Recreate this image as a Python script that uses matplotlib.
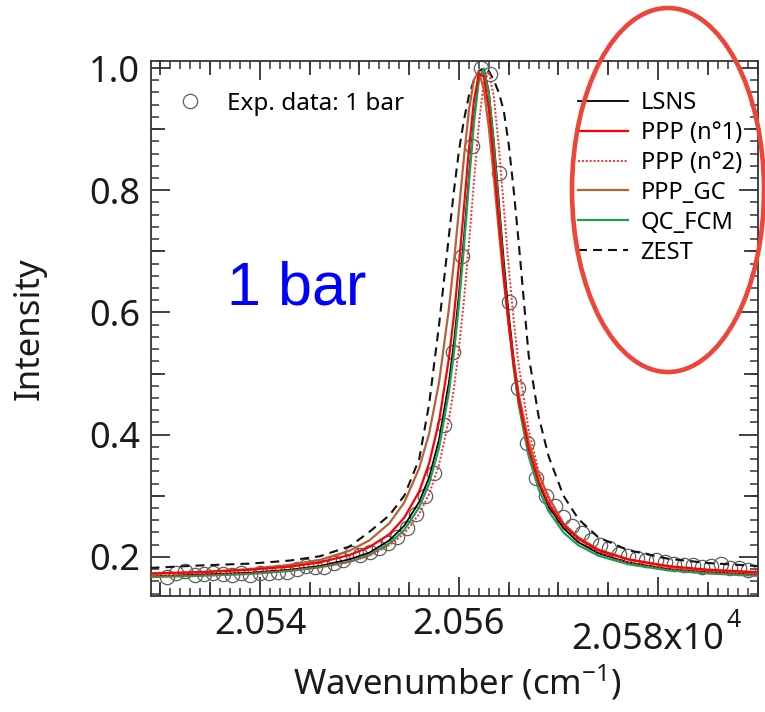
import numpy as np
import matplotlib
matplotlib.use("Agg")
import matplotlib.pyplot as plt
from matplotlib.patches import Ellipse
from matplotlib.ticker import FixedLocator, MultipleLocator, FixedFormatter

plt.rcParams['font.family'] = ['Noto Sans', 'DejaVu Sans']
plt.rcParams['mathtext.fontset'] = 'custom'
plt.rcParams['mathtext.rm'] = 'Noto Sans'
plt.rcParams['mathtext.it'] = 'Noto Sans:italic'
plt.rcParams['mathtext.bf'] = 'Noto Sans:bold'

# Measured spectrum at 1 bar (wavenumber in cm^-1)
exp_wn = [20530.7, 20531.6, 20532.5, 20533.5, 20534.4, 20535.3, 20536.3, 20537.2,
          20538.1, 20539.0, 20540.0, 20540.9, 20541.8, 20542.7, 20543.7, 20544.6,
          20545.5, 20546.4, 20547.4, 20548.3, 20549.2, 20550.1, 20551.1, 20552.0,
          20552.9, 20553.8, 20554.8, 20555.7, 20556.6, 20557.5, 20558.5, 20559.4,
          20560.3, 20561.3, 20562.2, 20563.1, 20564.0, 20565.0, 20565.9, 20566.8,
          20567.7, 20568.7, 20569.6, 20570.5, 20571.4, 20572.4, 20573.3, 20574.2,
          20575.1, 20576.1, 20577.0, 20577.9, 20578.8, 20579.8, 20580.7, 20581.6,
          20582.6, 20583.5, 20584.4, 20585.3, 20586.3, 20587.2, 20588.1, 20589.0]
exp_int = [0.167, 0.173, 0.177, 0.170, 0.172, 0.173, 0.172, 0.170, 0.173, 0.170,
           0.173, 0.173, 0.175, 0.175, 0.180, 0.185, 0.183, 0.183, 0.190, 0.195,
           0.206, 0.203, 0.208, 0.215, 0.222, 0.232, 0.247, 0.270, 0.300, 0.337,
           0.416, 0.535, 0.692, 0.872, 1.000, 0.990, 0.828, 0.617, 0.476, 0.386,
           0.329, 0.300, 0.283, 0.265, 0.250, 0.239, 0.227, 0.219, 0.214, 0.205,
           0.201, 0.198, 0.195, 0.195, 0.191, 0.188, 0.187, 0.187, 0.183, 0.185,
           0.188, 0.182, 0.182, 0.178]

# Computed line profiles on a common wavenumber grid
model_wn = [20529, 20534, 20539, 20543, 20546, 20549, 20551, 20553, 20554.5, 20556,
            20557, 20558, 20559, 20559.5, 20560, 20560.5, 20561, 20561.5, 20562,
            20562.5, 20563, 20563.5, 20564, 20564.5, 20565, 20565.5, 20566, 20567,
            20568, 20569, 20570.5, 20572, 20574, 20577, 20581, 20585, 20590]
lsns = [0.168, 0.171, 0.174, 0.179, 0.185, 0.196, 0.207, 0.227, 0.251, 0.290,
        0.330, 0.392, 0.487, 0.552, 0.631, 0.723, 0.823, 0.916, 0.982, 0.999,
        0.961, 0.881, 0.783, 0.685, 0.597, 0.524, 0.464, 0.377, 0.321, 0.283,
        0.247, 0.224, 0.206, 0.191, 0.180, 0.175, 0.171]
ppp_1 = [0.173, 0.175, 0.179, 0.184, 0.191, 0.203, 0.216, 0.237, 0.264, 0.307,
         0.353, 0.422, 0.526, 0.596, 0.679, 0.772, 0.867, 0.946, 0.991, 0.986,
         0.933, 0.848, 0.753, 0.661, 0.581, 0.514, 0.458, 0.377, 0.324, 0.287,
         0.252, 0.230, 0.211, 0.196, 0.185, 0.179, 0.175]
ppp_2 = [0.168, 0.170, 0.173, 0.178, 0.183, 0.192, 0.202, 0.219, 0.238, 0.270,
         0.303, 0.351, 0.426, 0.477, 0.542, 0.620, 0.712, 0.813, 0.909, 0.976,
         0.994, 0.954, 0.873, 0.773, 0.674, 0.587, 0.514, 0.408, 0.340, 0.295,
         0.253, 0.228, 0.208, 0.191, 0.181, 0.175, 0.171]
ppp_gc = [0.172, 0.175, 0.180, 0.187, 0.195, 0.210, 0.227, 0.255, 0.289, 0.345,
          0.402, 0.486, 0.608, 0.684, 0.768, 0.854, 0.931, 0.981, 0.994, 0.965,
          0.902, 0.821, 0.734, 0.652, 0.580, 0.519, 0.467, 0.389, 0.335, 0.298,
          0.255, 0.232, 0.212, 0.196, 0.184, 0.178, 0.174]
qc_fcm = [0.167, 0.169, 0.172, 0.177, 0.183, 0.192, 0.203, 0.222, 0.244, 0.281,
          0.320, 0.379, 0.471, 0.535, 0.615, 0.708, 0.812, 0.910, 0.981, 0.999,
          0.958, 0.873, 0.770, 0.669, 0.581, 0.508, 0.449, 0.365, 0.311, 0.275,
          0.240, 0.219, 0.202, 0.188, 0.178, 0.173, 0.169]
zest = [0.182, 0.186, 0.189, 0.194, 0.201, 0.217, 0.241, 0.268, 0.300, 0.360,
        0.450, 0.580, 0.727, 0.800, 0.865, 0.915, 0.955, 0.980, 0.995, 1.000,
        0.995, 0.980, 0.960, 0.930, 0.875, 0.800, 0.715, 0.530, 0.430, 0.365,
        0.300, 0.262, 0.232, 0.211, 0.197, 0.190, 0.185]

x_ticks = [2.054, 2.056, 2.058]
x_tick_labels = ['2.054', '2.056', '']
x_last_label = '2.058x10'
x_exponent = '4'
y_ticks = [0.2, 0.4, 0.6, 0.8, 1.0]
y_tick_labels = ['0.2', '0.4', '0.6', '0.8', '1.0']

W, H = 765, 712
fig = plt.figure(figsize=(W / 100, H / 100), dpi=100)
ax = fig.add_axes([151 / W, 1 - 596 / H, 607 / W, 535 / H])

xe = np.array(exp_wn) / 1e4
xm = np.array(model_wn) / 1e4

h_exp, = ax.plot(xe, exp_int, ls='none', marker='o', ms=10.3, mfc='none',
                 mec='#5e5e5e', mew=0.9, label='Exp. data: 1 bar', zorder=2)
h_zest, = ax.plot(xm, zest, color='#111111', lw=1.5, ls=(0, (4.3, 2.9)),
                  label='ZEST', zorder=3)
h_lsns, = ax.plot(xm, lsns, color='#000000', lw=1.3, label='LSNS', zorder=4)
h_qc, = ax.plot(xm, qc_fcm, color='#1f9e58', lw=1.6, label='QC_FCM', zorder=5)
h_gc, = ax.plot(xm, ppp_gc, color='#b5613a', lw=1.6, label='PPP_GC', zorder=6)
h_p2, = ax.plot(xm, ppp_2, color='#ff2a2a', lw=1.4, ls=(0, (1, 1)),
                label='PPP (n\u00b02)', zorder=7)
h_p1, = ax.plot(xm, ppp_1, color='#ff0000', lw=1.6, label='PPP (n\u00b01)', zorder=8)

ax.set_xlim(2.052905, 2.059005)
ax.set_ylim(0.136, 1.0115)

# axis styling: inward ticks on all four sides
spine_c = '#333333'
text_c = '#1a1a1a'
for s in ax.spines.values():
    s.set_color(spine_c)
    s.set_linewidth(1.3)

ax.xaxis.set_major_locator(FixedLocator(x_ticks))
ax.xaxis.set_major_formatter(FixedFormatter(x_tick_labels))
ax.xaxis.set_minor_locator(MultipleLocator(0.0001))
ax.yaxis.set_major_locator(FixedLocator(y_ticks))
ax.yaxis.set_major_formatter(FixedFormatter(y_tick_labels))
ax.yaxis.set_minor_locator(MultipleLocator(0.02))
ax.tick_params(which='both', direction='in', top=True, right=True, color=spine_c)
ax.tick_params(which='major', length=14, width=1.3, labelsize=26, labelcolor=text_c)
ax.tick_params(which='minor', length=6, width=1.1)
ax.tick_params(axis='x', which='major', pad=8)
ax.tick_params(axis='y', which='major', pad=8)

# last x tick label carries the x10^4 multiplier, set a little lower as a block
ax.annotate(x_last_label, xy=(x_ticks[-1], 0), xycoords=('data', 'axes fraction'),
            xytext=(47.5, -38.2), textcoords='offset points', ha='right',
            va='baseline', fontsize=26, color=text_c, annotation_clip=False)
ax.annotate(x_exponent, xy=(x_ticks[-1], 0), xycoords=('data', 'axes fraction'),
            xytext=(49.5, -22.3), textcoords='offset points', ha='left',
            va='baseline', fontsize=18, color=text_c, annotation_clip=False)

# intermediate tick marks
mid_x = [v for v in np.round(np.arange(2.0530, 2.05901, 0.0005), 4) if v not in x_ticks]
mid_y = [0.3, 0.5, 0.7, 0.9]
for side in ('bottom', 'top'):
    sec = ax.secondary_xaxis(side)
    sec.set_xticks(mid_x)
    sec.tick_params(direction='in', length=10, width=1.3, color=spine_c,
                    labelbottom=False, labeltop=False)
    sec.xaxis.set_minor_locator(FixedLocator([]))
    for s in sec.spines.values():
        s.set_visible(False)
for side in ('left', 'right'):
    sec = ax.secondary_yaxis(side)
    sec.set_yticks(mid_y)
    sec.tick_params(direction='in', length=10, width=1.3, color=spine_c,
                    labelleft=False, labelright=False)
    sec.yaxis.set_minor_locator(FixedLocator([]))
    for s in sec.spines.values():
        s.set_visible(False)

ax.set_xlabel(r'Wavenumber (cm$^{\mathregular{-1}}$)', fontsize=25, color=text_c)
ax.set_ylabel('Intensity', fontsize=25, color=text_c)
ax.xaxis.set_label_coords(0.505, -0.125)
ax.yaxis.set_label_coords(-0.172, 0.5)

ax.text(0.125, 0.544, '1 bar', transform=ax.transAxes, fontsize=44,
        family='Liberation Sans', color='#0000ff', ha='left', va='baseline')

leg1 = ax.legend(handles=[h_exp], loc='upper left', frameon=False, fontsize=17.5,
                 handlelength=1.5, handletextpad=0.75, borderpad=0, borderaxespad=0,
                 numpoints=1, bbox_to_anchor=(172 / W, 1 - 92 / H),
                 bbox_transform=fig.transFigure)
ax.add_artist(leg1)
ax.legend(handles=[h_lsns, h_p1, h_p2, h_gc, h_qc, h_zest], loc='upper left',
          frameon=False, fontsize=17, handlelength=2.1, handletextpad=0.55,
          labelspacing=0.25, borderpad=0, borderaxespad=0,
          bbox_to_anchor=(578 / W, 1 - 91 / H), bbox_transform=fig.transFigure)

fig.add_artist(Ellipse((668 / W, 1 - 190 / H), 192 / W, 364 / H,
                       transform=fig.transFigure, fill=False,
                       edgecolor='#ef4438', linewidth=3.3, zorder=20))

fig.savefig('out.png', dpi=100)
